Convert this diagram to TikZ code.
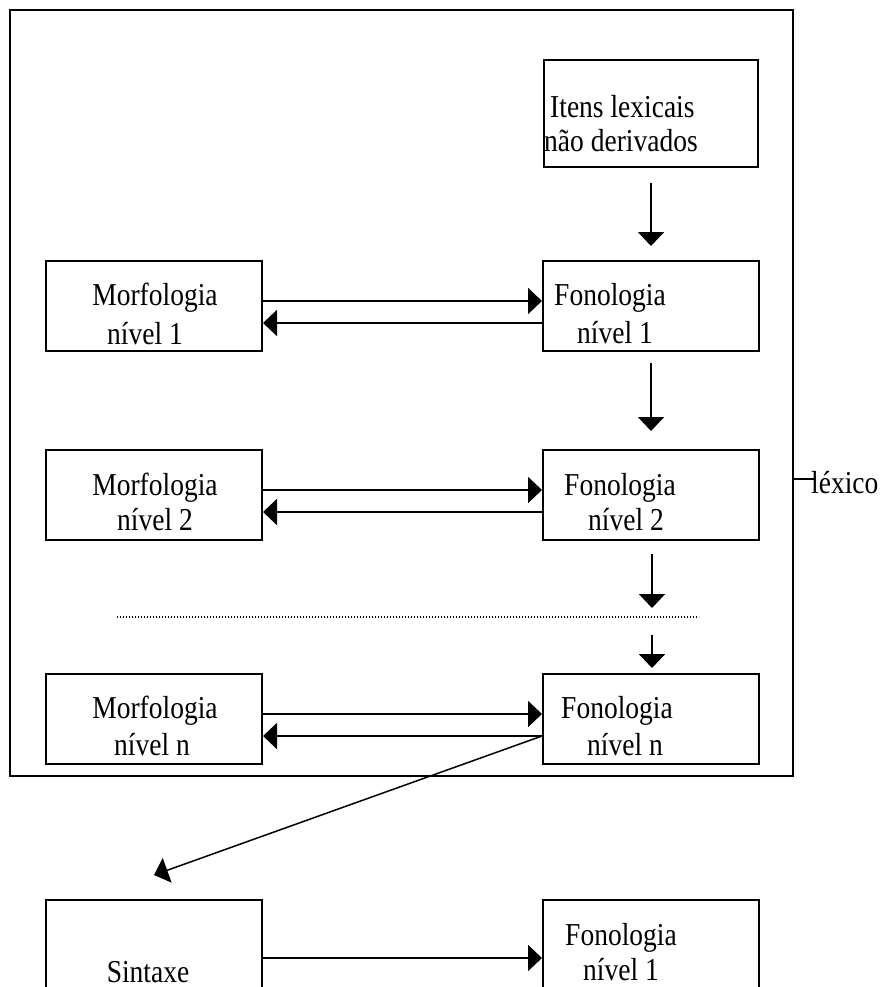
\documentclass[tikz,border=0pt]{standalone}
\usepackage{fontspec}
\setmainfont{Liberation Serif}
\usetikzlibrary{arrows.meta}

% text is set slightly taller than wide
\newcommand{\tall}[1]{\scalebox{1}[1.16]{#1}}

\begin{document}
\begin{tikzpicture}[x=1pt,y=-1pt,
  box/.style={draw, line width=2pt, rectangle, inner sep=0pt,
              minimum width=216pt, minimum height=90pt},
  lbl/.style={inner sep=0pt, anchor=base, font=\fontsize{27.5}{32}\selectfont},
  arr/.style={line width=2pt, -{Triangle[length=14pt,width=26pt]}},
  thin arr/.style={line width=1.5pt, -{Triangle[length=14pt,width=26pt]}}
]
\useasboundingbox (0,0) rectangle (880,987);
\clip (0,0) rectangle (880,987);
\fill[white] (0,0) rectangle (880,987);

% lexicon frame
\node[draw, line width=2pt, inner sep=0pt, minimum width=783pt, minimum height=766pt]
  (lex) at (401.5,393) {};
\coordinate (tick) at (815,479);
\draw[line width=1.2pt] (lex.east |- tick) -- (tick);
\node[lbl, anchor=base west] (lexlbl) at (811,493) {\tall{léxico}};

% boxes
\node[box, minimum width=214pt, minimum height=107pt] (it) at (651,113.5) {};
\node[box] (m1) at (154,306) {};
\node[box] (f1) at (651,306) {};
\node[box] (m2) at (154,495) {};
\node[box] (f2) at (651,495) {};
\node[box] (mn) at (154,719) {};
\node[box] (fn) at (651,719) {};
\node[box, minimum height=110pt] (sx) at (154,955) {};
\node[box, minimum height=110pt] (fb) at (651,955) {};

% texts
\node[lbl, anchor=base west] (t0a) at (550,118) {\tall{Itens lexicais}};
\node[lbl, anchor=base west] (t0b) at (544,152) {\tall{não derivados}};

\node[lbl] (t1a) at (155,305) {\tall{Morfologia}};
\node[lbl] (t1b) at (145,344) {\tall{nível 1}};
\node[lbl] (t1c) at (610,305) {\tall{Fonologia}};
\node[lbl] (t1d) at (615,343) {\tall{nível 1}};

\node[lbl] (t2a) at (155,495) {\tall{Morfologia}};
\node[lbl] (t2b) at (155,530) {\tall{nível 2}};
\node[lbl] (t2c) at (620,495) {\tall{Fonologia}};
\node[lbl] (t2d) at (626,530) {\tall{nível 2}};

\node[lbl] (t3a) at (155,718) {\tall{Morfologia}};
\node[lbl] (t3b) at (152,755) {\tall{nível n}};
\node[lbl] (t3c) at (617,718) {\tall{Fonologia}};
\node[lbl] (t3d) at (625,755) {\tall{nível n}};

\node[lbl] (t4a) at (148,982) {\tall{Sintaxe}};
\node[lbl] (t4b) at (621,945) {\tall{Fonologia}};
\node[lbl] (t4c) at (621,980) {\tall{nível 1}};

% dotted separator
\coordinate (dl) at (117,617);
\coordinate (dr) at (699,617);
\draw[line width=1.3pt, dash pattern=on 1.2pt off 1.8pt] (dl) -- (dr);

% vertical arrows
\coordinate (d1) at (652,608);
\coordinate (d2) at (652,635);
\draw[arr, shorten <=15pt, shorten >=14pt] (it.south) -- (f1.north);
\draw[arr, shorten <=11pt, shorten >=18pt] (f1.south) -- (f2.north);
\draw[arr, shorten <=13pt] (f2.south -| d1) -- (d1);
\draw[arr, shorten >=5pt] (d2) -- (fn.north -| d2);

% horizontal arrows
\foreach \m/\f in {m1/f1, m2/f2, mn/fn}{
  \draw[arr] ([yshift=5pt]\m.east) -- ([yshift=5pt]\f.west);
  \draw[arr] ([yshift=-17pt]\f.west) -- ([yshift=-17pt]\m.east);
}

% to syntax and back
\draw[thin arr] ([yshift=-17pt]fn.west) -- ([yshift=24pt]sx.north);
\draw[arr] ([yshift=-3pt]sx.east) -- ([yshift=-3pt]fb.west);
\end{tikzpicture}
\end{document}
